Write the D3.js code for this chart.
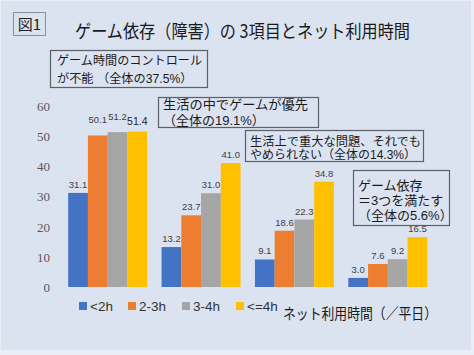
<!DOCTYPE html>
<html><head><meta charset="utf-8">
<script src="https://cdn.jsdelivr.net/npm/d3@7"></script>
<style>body{margin:0;padding:0;}svg{display:block;}</style>
</head><body>
<script>
const categories = ["コントロール不能","生活の中で優先","重大な問題でも継続","ゲーム依存"];
const seriesNames = ["<2h","2-3h","3-4h","<=4h"];
const valuesLt2 = [31.1, 13.2, 9.1, 3.0];
const values2to3 = [50.1, 23.7, 18.6, 7.6];
const values3to4 = [51.2, 31.0, 22.3, 9.2];
const valuesGe4 = [51.4, 41.0, 34.8, 16.5];
const yTicks = [0,10,20,30,40,50,60];
const colors = ["#4472C4","#ED7D31","#A5A5A5","#FFC000"];
const titleText = "ゲーム依存（障害）の 3項目とネット利用時間";
const figLabel = "図1";
const boxTexts = [
  ["ゲーム時間のコントロール","が不能 （全体の37.5%）"],
  ["生活の中でゲームが優先","（全体の19.1%）"],
  ["生活上で重大な問題、それでも","やめられない（全体の14.3%）"],
  ["ゲーム依存","＝3つを満たす","（全体の5.6%）"]
];
const xAxisTitle = "ネット利用時間（／平日）";

const allSeries = [valuesLt2, values2to3, values3to4, valuesGe4];
const W = 474, H = 355;
const svg = d3.select("body").append("svg").attr("width", W).attr("height", H);
svg.append("rect").attr("width", W).attr("height", H).attr("fill", "#e8edf6");
svg.append("rect").attr("x", 1).attr("y", 1).attr("width", 470).attr("height", 349).attr("fill", "#dbe3f1");

const jp = "'Noto Sans CJK JP', sans-serif";
const jpBox = "'Liberation Sans', 'Noto Sans CJK JP', sans-serif";

// fig label
svg.append("rect").attr("x", 13.5).attr("y", 12.5).attr("width", 32).attr("height", 23)
  .attr("fill", "none").attr("stroke", "#8a8f99").attr("stroke-width", 1);
svg.append("text").attr("x", 29.5).attr("y", 30).attr("text-anchor", "middle")
  .attr("font-family", jp).attr("font-size", 15).attr("fill", "#222").text(figLabel);

// title
svg.append("text").attr("x", 75).attr("y", 37.5).attr("font-family", jp).attr("font-size", 18.5)
  .attr("fill", "#1a1a1a").attr("textLength", 335).attr("lengthAdjust", "spacingAndGlyphs").text(titleText);

const x0 = d3.scaleBand().domain(categories).range([61, 434.5]).paddingInner(0.154).paddingOuter(0.077);
const x1 = d3.scaleBand().domain(seriesNames).range([0, x0.bandwidth()]);
const y = d3.scaleLinear().domain([0, 60]).range([287, 105.5]);

// y axis
const yAxis = d3.axisLeft(y).tickValues(yTicks).tickSize(0).tickPadding(0);
const gy = svg.append("g").attr("transform", "translate(50,0)").call(yAxis);
gy.select(".domain").remove();
gy.selectAll("text").attr("font-family", "'Liberation Serif', serif").attr("font-size", 13)
  .attr("fill", "#595959").attr("dy", "0.35em");

// bars
const groups = svg.append("g").selectAll("g").data(categories).join("g")
  .attr("transform", d => `translate(${x0(d)},0)`);
groups.each(function(cat, ci) {
  const g = d3.select(this);
  seriesNames.forEach((s, si) => {
    const v = allSeries[si][ci];
    g.append("rect").attr("x", x1(s)).attr("y", y(v)).attr("width", x1.bandwidth())
      .attr("height", y(0) - y(v)).attr("fill", colors[si]);
    const big = (ci === 0 && si === 3);
    const lift = (ci === 0 && (si === 1 || si === 2)) ? 12 : (big ? 7 : 5);
    g.append("text").attr("x", x1(s) + x1.bandwidth() / 2).attr("y", y(v) - lift)
      .attr("text-anchor", "middle").attr("font-family", "'Liberation Sans', sans-serif")
      .attr("font-size", big ? 10.5 : 9.5).attr("fill", big ? "#262626" : "#404040")
      .text(v.toFixed(1));
  });
});

// annotation boxes
const boxLayout = [
  {x: 50.5, y: 50.5, w: 157, h: 37, fs: 12.2, lh: 18, tx: 57, ty: 65, tl: 145},
  {x: 158.5, y: 97.5, w: 160, h: 30, fs: 13, lh: 15.5, tx: 163, ty: 109, tl: 145},
  {x: 245.5, y: 130.5, w: 178, h: 31, fs: 12, lh: 13.6, tx: 250, ty: 145.5, tl: 171},
  {x: 353.5, y: 170.5, w: 96, h: 55, fs: 13, lh: 15, tx: 358, ty: 189.5, tl: null}
];
boxLayout.forEach((b, i) => {
  svg.append("rect").attr("x", b.x).attr("y", b.y).attr("width", b.w).attr("height", b.h)
    .attr("fill", "#dbe3f1").attr("stroke", "#5b5f66").attr("stroke-width", 1.2);
  boxTexts[i].forEach((line, li) => {
    const t = svg.append("text").attr("x", b.tx).attr("y", b.ty + li * b.lh).attr("font-family", jpBox)
      .attr("font-size", b.fs).attr("fill", "#1a1a1a").text(line);
    if (b.tl && li === 0) t.attr("textLength", b.tl).attr("lengthAdjust", "spacingAndGlyphs");
  });
});

// legend
const legX = [79, 128, 182, 236];
seriesNames.forEach((s, i) => {
  svg.append("rect").attr("x", legX[i]).attr("y", 302).attr("width", 8).attr("height", 8).attr("fill", colors[i]);
  svg.append("text").attr("x", legX[i] + 11).attr("y", 311).attr("font-family", "'Liberation Sans', sans-serif")
    .attr("font-size", 13.5).attr("fill", "#333").text(s);
});
svg.append("text").attr("x", 283).attr("y", 319).attr("font-family", jp).attr("font-size", 15)
  .attr("fill", "#1a1a1a").attr("textLength", 154).attr("lengthAdjust", "spacingAndGlyphs").text(xAxisTitle);
</script>
</body></html>
